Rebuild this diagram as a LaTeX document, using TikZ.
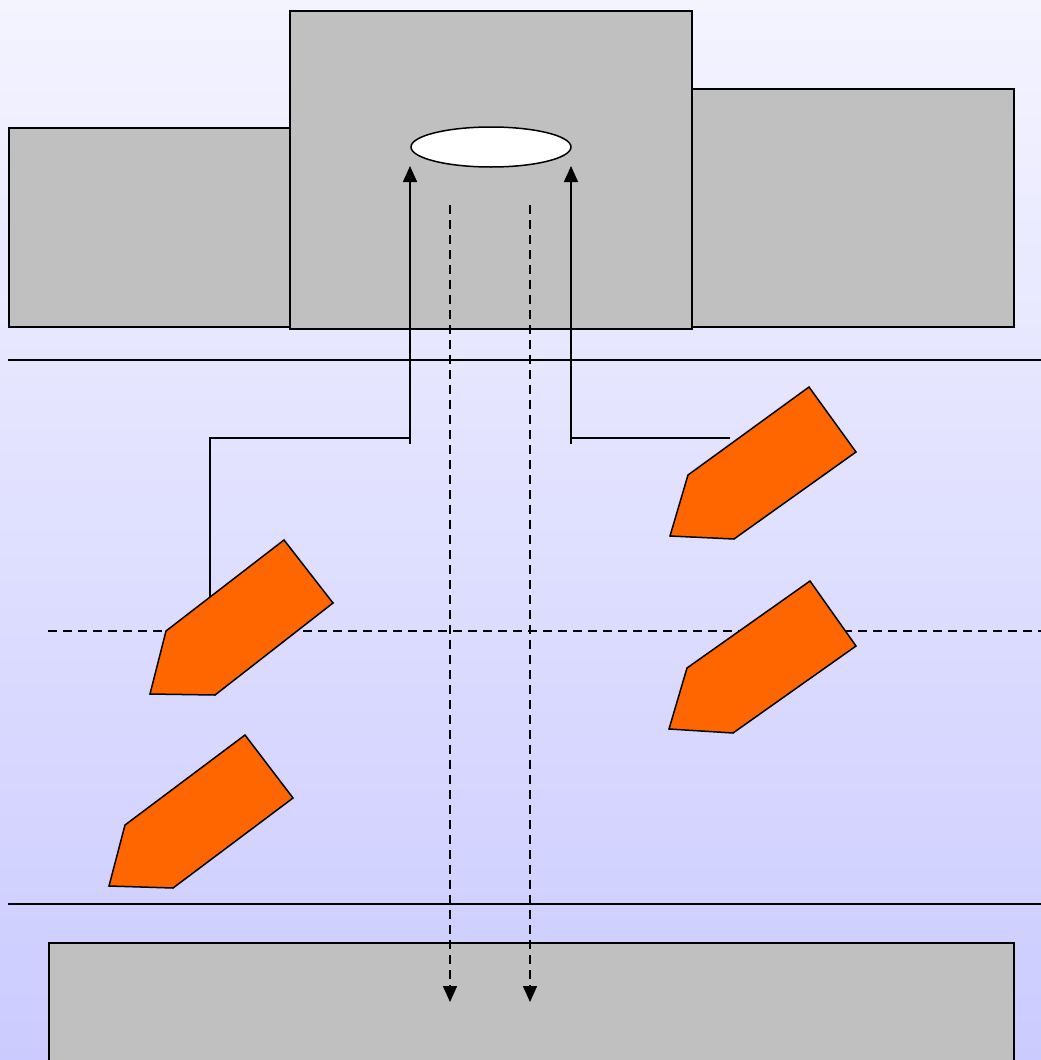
\documentclass[tikz,border=0pt]{standalone}
\usetikzlibrary{arrows.meta,shapes.geometric}
\definecolor{bgtop}{RGB}{244,244,255}
\definecolor{bgbot}{RGB}{203,203,255}
\definecolor{boxgray}{RGB}{192,192,192}
\definecolor{orng}{RGB}{255,102,0}
\tikzset{
  box/.style={draw=black, fill=boxgray, line width=1.5pt, inner sep=0pt, anchor=north west},
  conn/.style={draw=black, line width=1.5pt},
  dconn/.style={draw=black, line width=1.5pt, dash pattern=on 9pt off 6pt},
  tip/.style={-{Triangle[width=14pt,length=16pt]}},
  arrowshape/.style={draw=black, fill=orng, line width=1.5pt, line join=miter}
}
\begin{document}
\begin{tikzpicture}[x=1pt,y=-1pt]
\shade[top color=bgtop, bottom color=bgbot] (0,0) rectangle (1041,1060);
\useasboundingbox (0,0) rectangle (1041,1060);
% boxes
\node[box, minimum width=281pt, minimum height=199pt] (left) at (8,127) {};
\node[box, minimum width=322pt, minimum height=238pt] (right) at (691,88) {};
\node[box, minimum width=402pt, minimum height=318pt] (center) at (289,10) {};
\node[box, minimum width=965pt, minimum height=140pt] (bottom) at (48,942) {};
\node[draw=black, fill=white, line width=1.5pt, ellipse, minimum width=160pt, minimum height=40pt, inner sep=0pt] (hole) at (491,147) {};
% horizontal lines
\coordinate (l1a) at (8,360); \coordinate (l1b) at (1041,360);
\coordinate (l2a) at (8,904); \coordinate (l2b) at (1041,904);
\coordinate (d1a) at (48,631); \coordinate (d1b) at (1041,631);
\draw[conn] (l1a) -- (l1b);
\draw[conn] (l2a) -- (l2b);
\draw[dconn] (d1a) -- (d1b);
% up arrows
\coordinate (ua0) at (210,598);
\coordinate (ua1) at (210,438);
\coordinate (ua2) at (410,444);
\coordinate (ua3) at (410,166);
\coordinate (ub0) at (730,438);
\coordinate (ub1) at (571,444);
\coordinate (ub2) at (571,166);
\draw[conn, tip] (ua2) -- (ua3);
\draw[conn] (ua0) -- (ua1) -- (ua1 -| ua2);
\draw[conn, tip] (ub1) -- (ub2);
\draw[conn] (ub0) -- (ub0 -| ub1);
% dashed down arrows
\coordinate (da0) at (450,205); \coordinate (da1) at (450,1002);
\coordinate (db0) at (530,205); \coordinate (db1) at (530,1002);
\draw[dconn, tip] (da0) -- (da1);
\draw[dconn, tip] (db0) -- (db1);
% orange arrows
\draw[arrowshape] (809,387) -- (856,452) -- (734,539) -- (670,536) -- (688,475) -- cycle;
\draw[arrowshape] (284,540) -- (333,603) -- (215,695) -- (150,694) -- (166,631) -- cycle;
\draw[arrowshape] (810,581) -- (856,646) -- (733,733) -- (669,729) -- (687,668) -- cycle;
\draw[arrowshape] (245,735) -- (293,798) -- (173,888) -- (109,886) -- (125,825) -- cycle;
\end{tikzpicture}
\end{document}
